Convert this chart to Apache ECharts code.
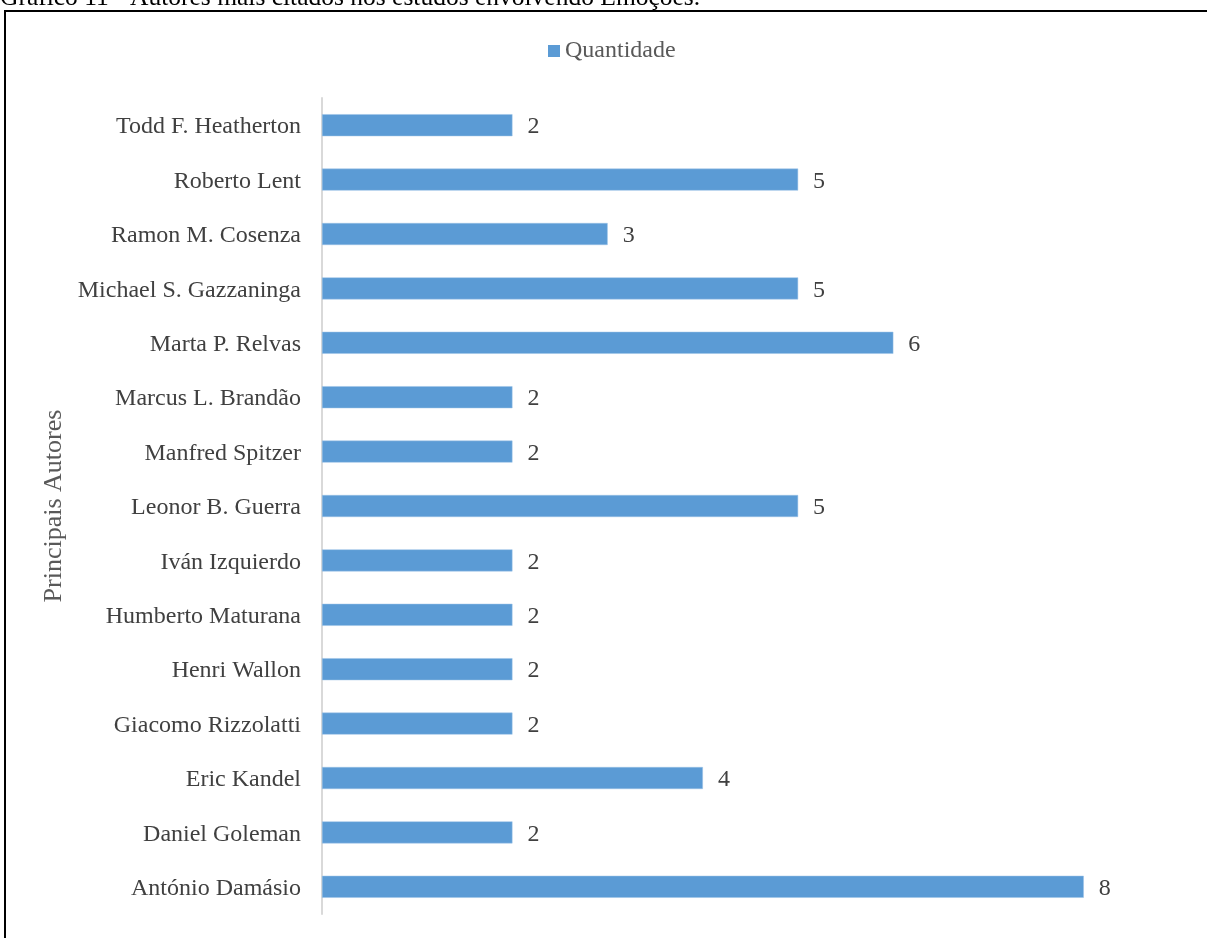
<!DOCTYPE html>
<html><head><meta charset="utf-8">
<script src="https://cdn.jsdelivr.net/npm/echarts@6/dist/echarts.min.js"></script>
<style>html,body{margin:0;padding:0;background:#fff}#c{width:1207px;height:938px}</style>
</head><body><div id="c"></div>
<script>
const categories = ["António Damásio","Daniel Goleman","Eric Kandel","Giacomo Rizzolatti","Henri Wallon","Humberto Maturana","Iván Izquierdo","Leonor B. Guerra","Manfred Spitzer","Marcus L. Brandão","Marta P. Relvas","Michael S. Gazzaninga","Ramon M. Cosenza","Roberto Lent","Todd F. Heatherton"];
const values = [8,2,4,2,2,2,2,5,2,2,6,5,3,5,2];
const seriesName = "Quantidade";
const axisName = "Principais Autores";
const caption = "Gráfico 11 - Autores mais citados nos estudos envolvendo Emoções.";

const chart = echarts.init(document.getElementById('c'));
const font = "'Liberation Serif', 'Times New Roman', serif";
chart.setOption({
  animation: false,
  textStyle: {fontFamily: font},
  graphic: [
    {type:'text', left: 0, top: -15, style:{text: caption, font: "25.5px " + font, fill:'#000'}},
    {type:'rect', shape:{x:5, y:11, width:1220, height:960}, style:{fill:'none', stroke:'#000', lineWidth:2}}
  ],
  legend: {
    top: 34, left: 543, itemWidth: 12, itemHeight: 12, itemGap: 10,
    icon: 'rect',
    itemStyle: {borderWidth: 0},
    textStyle: {fontSize: 24, color: '#595959', fontFamily: font},
    data: [seriesName]
  },
  grid: {left: 322, right: 28, top: 98, bottom: 24, containLabel: false},
  xAxis: {type:'value', min:0, max:9, show:false},
  yAxis: {
    type:'category', data: categories,
    name: axisName, nameLocation:'middle', nameGap: 252, nameRotate: 90,
    nameTextStyle:{fontSize: 26, color:'#595959', fontFamily: font},
    axisLine:{show:true, lineStyle:{color:'#d9d9d9', width:2}},
    axisTick:{show:false},
    axisLabel:{
      margin: 21,
      formatter: v => '{a|' + v + '}',
      rich: {a: {fontSize: 24, color:'#404040', fontFamily: font, padding:[4,0,0,0]}}
    },
    splitLine:{show:false}
  },
  series: [{
    name: seriesName, type:'bar', data: values, barWidth: 22,
    itemStyle:{color:'#5B9BD5', borderColor:'#9DC3E6', borderWidth:0.5},
    label:{show:true, position:'right', distance: 15, offset:[0,2], fontSize: 24, color:'#404040', fontFamily: font}
  }]
});
</script></body></html>
